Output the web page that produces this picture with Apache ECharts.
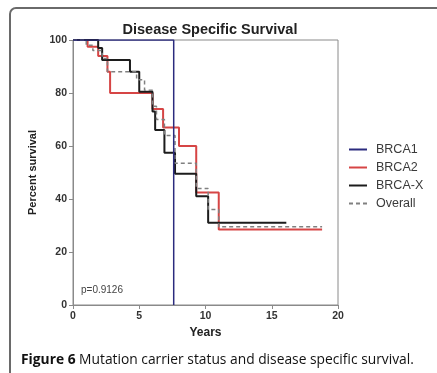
<!DOCTYPE html>
<html>
<head>
<meta charset="utf-8">
<script src="https://cdn.jsdelivr.net/npm/echarts@6/dist/echarts.min.js"></script>
<style>
  html, body { margin: 0; padding: 0; background: #fff; }
  #chart { width: 437px; height: 373px; }
</style>
</head>
<body>
<div id="chart"></div>
<script>
// Kaplan–Meier step curves: event times (years) and survival (%) after each event
const seriesNames = ['BRCA1', 'BRCA2', 'BRCA-X', 'Overall'];

const brca1Years = [0, 7.6, 7.6];
const brca1Survival = [100, 100, 0];

const brca2Years = [0, 1.1, 1.9, 2.6, 2.8, 6.0, 6.8, 8.0, 9.3, 11.0, 18.8];
const brca2Survival = [100, 97.5, 94, 88, 80, 74, 67, 60, 42.5, 28.5, 28.5];

const brcaXYears = [0, 1.9, 2.2, 4.3, 5.0, 6.0, 6.2, 6.9, 7.7, 9.3, 10.2, 16.1];
const brcaXSurvival = [100, 97, 92.5, 88, 80.5, 73, 66, 57.5, 49.5, 41, 31, 31];

const overallYears = [0, 1.0, 1.5, 2.2, 2.6, 4.8, 5.4, 6.0, 6.3, 6.9, 7.7, 9.3, 10.2, 11.0, 18.8];
const overallSurvival = [100, 98, 96, 93, 88, 85, 81, 75, 70, 64, 53.5, 44, 36, 29.5, 29.5];

const xTicks = [0, 5, 10, 15, 20];
const yTicks = [0, 20, 40, 60, 80, 100];

function pairs(xs, ys) { return xs.map((x, i) => [x, ys[i]]); }

const chart = echarts.init(document.getElementById('chart'), null, { renderer: 'canvas' });
const axisGray = '#8a8a8a';
const font = '"Liberation Sans", Arial, sans-serif';

chart.setOption({
  animation: false,
  backgroundColor: '#ffffff',
  title: {
    text: 'Disease Specific Survival',
    left: 205, top: 17, textAlign: 'center',
    textStyle: { fontFamily: font, fontWeight: 'bold', fontSize: 14.5, color: '#222' }
  },
  grid: {
    left: 73, right: 99, top: 40, bottom: 68,
    show: true, borderColor: axisGray, borderWidth: 1, backgroundColor: 'transparent'
  },
  legend: {
    orient: 'vertical', left: 343, top: 138,
    itemWidth: 18, itemHeight: 8, itemGap: 5,
    data: seriesNames,
    itemStyle: { opacity: 0 },
    textStyle: { fontFamily: font, fontSize: 12.5, color: '#3a3a3a', padding: [0, 0, 0, 4] }
  },
  xAxis: {
    type: 'value', min: xTicks[0], max: xTicks[xTicks.length - 1], interval: 5,
    name: 'Years', nameLocation: 'middle', nameGap: 22,
    nameTextStyle: { fontFamily: font, fontWeight: 'bold', fontSize: 12, color: '#222' },
    axisLine: { show: true, lineStyle: { color: axisGray, width: 1 } },
    axisTick: { show: true, length: 4, lineStyle: { color: axisGray } },
    axisLabel: { fontFamily: font, fontSize: 10.5, color: '#333', fontWeight: 'bold', margin: 6 },
    splitLine: { show: false }
  },
  yAxis: {
    type: 'value', min: yTicks[0], max: yTicks[yTicks.length - 1], interval: 20,
    name: 'Percent survival', nameLocation: 'middle', nameGap: 34,
    nameTextStyle: { fontFamily: font, fontWeight: 'bold', fontSize: 11, color: '#222' },
    axisLine: { show: true, lineStyle: { color: axisGray, width: 1 } },
    axisTick: { show: true, length: 4, lineStyle: { color: axisGray } },
    axisLabel: { fontFamily: font, fontSize: 10.5, color: '#333', fontWeight: 'bold', margin: 6 },
    splitLine: { show: false }
  },
  series: [
    {
      name: 'BRCA2', type: 'line', step: 'end', symbol: 'none', z: 3,
      data: pairs(brca2Years, brca2Survival),
      lineStyle: { color: '#d64545', width: 2 }, itemStyle: { color: '#d64545' }
    },
    {
      name: 'BRCA-X', type: 'line', step: 'end', symbol: 'none', z: 4,
      data: pairs(brcaXYears, brcaXSurvival),
      lineStyle: { color: '#1c1c1c', width: 2 }, itemStyle: { color: '#1c1c1c' }
    },
    {
      name: 'Overall', type: 'line', step: 'end', symbol: 'none', z: 5,
      data: pairs(overallYears, overallSurvival),
      lineStyle: { color: '#808080', width: 1.5, type: [4, 3] }, itemStyle: { color: '#808080' }
    },
    {
      name: 'BRCA1', type: 'line', symbol: 'none', z: 6,
      data: pairs(brca1Years, brca1Survival),
      lineStyle: { color: '#2b2b7e', width: 1.5 }, itemStyle: { color: '#2b2b7e' }
    }
  ],
  graphic: [
    {
      type: 'rect', silent: true, z: -1,
      shape: { x: 10, y: 8, width: 460, height: 400, r: 6 },
      style: { fill: 'none', stroke: '#6a6a6a', lineWidth: 2 }
    },
    {
      type: 'text', left: 81, top: 285,
      style: { text: 'p=0.9126', font: '10px ' + font, fill: '#444' }
    },
    {
      type: 'text', left: 21, top: 353,
      style: {
        text: '{b|Figure 6} Mutation carrier status and disease specific survival.',
        rich: {
          b: { fontFamily: '"Open Sans", sans-serif', fontWeight: 'bold', fontSize: 13.8, fill: '#111' }
        },
        fontFamily: '"Open Sans", sans-serif', fontSize: 13.8, fill: '#111'
      }
    }
  ]
});
</script>
</body>
</html>
